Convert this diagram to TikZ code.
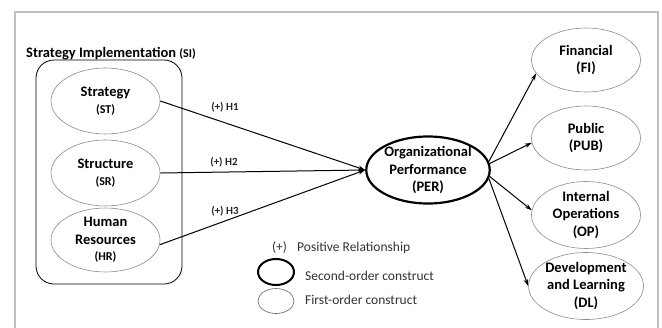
\documentclass[tikz,border=0pt]{standalone}
\usepackage{fontspec}
\setmainfont{Carlito}
\usetikzlibrary{shapes.geometric,arrows.meta}
\begin{document}
\begin{tikzpicture}[x=1pt,y=-1pt,
  first/.style={ellipse,draw=black!45,line width=0.6pt,minimum width=109pt,minimum height=66pt,inner sep=0pt,align=center,font=\fontsize{14.5}{17.5}\selectfont\bfseries},
  second/.style={ellipse,draw=black,line width=2.2pt,minimum width=111pt,minimum height=66pt,inner sep=0pt,align=center,font=\fontsize{14.5}{17.5}\selectfont\bfseries},
  arr/.style={line width=1pt,-{Stealth[length=7pt,width=4.5pt]}},
  hlab/.style={font=\fontsize{11}{13}\selectfont\bfseries,text=black!85},
  legtext/.style={inner sep=0pt,font=\fontsize{13.5}{16}\selectfont,text=black!80}]
\useasboundingbox (0,0) rectangle (662,327);
\fill[white] (0,0) rectangle (662,327);
\draw[black!25,line width=1.6pt] (15,335) -- (15,12) -- (658,12) -- (658,335);
% title and group box
\node[anchor=base west,inner sep=0pt,font=\fontsize{14.5}{17}\selectfont\bfseries] (title) at (26,57) {Strategy Implementation {\fontsize{12}{14}\selectfont(SI)}};
\draw[line width=0.8pt,rounded corners=18pt] (36,60) rectangle (182,284);
% first-order left
\node[first] (st) at (105.5,101) {Strategy\\[-1pt]{\fontsize{12}{15}\selectfont(ST)}};
\node[first] (sr) at (105.5,173) {Structure\\[-1pt]{\fontsize{12}{15}\selectfont(SR)}};
\node[first,minimum height=62pt] (hr) at (105.5,240) {Human\\Resources\\[-1pt]{\fontsize{12}{15}\selectfont(HR)}};
% second-order
\node[second] (per) at (428,170) {Organizational\\Performance\\(PER)};
% right first-order
\node[first,minimum height=64pt] (fi) at (586,60) {Financial\\(FI)};
\node[first,minimum height=64pt] (pub) at (586,138) {Public\\(PUB)};
\node[first,minimum height=62pt] (op) at (586,215) {Internal\\Operations\\(OP)};
\node[first,minimum height=62pt] (dl) at (586,286) {Development\\and Learning\\(DL)};
% arrows in
\draw[arr] (st.east) -- (per.west);
\draw[arr] (sr.east) -- (per.west);
\draw[arr] (hr.-5) -- (per.west);
\node[hlab] (h1) at (225,107) {(+) H1};
\node[hlab] (h2) at (224,162) {(+) H2};
\node[hlab] (h3) at (225,211) {(+) H3};
% arrows out
\draw[arr] (per.8) -- (fi.195);
\draw[arr] (per.6) -- (pub.185);
\draw[arr] (per.-6) -- (op.175);
\draw[arr] (per.-8) -- (dl.west);
% legend
\node[legtext,anchor=base] (plus) at (279.5,251) {(+)};
\node[legtext,anchor=base west] (pos) at (297,251) {Positive Relationship};
\node[ellipse,draw=black,line width=2pt,minimum width=36pt,minimum height=26pt,inner sep=0pt] (lsec) at (276,272) {};
\node[ellipse,draw=black!60,line width=0.6pt,minimum width=36pt,minimum height=25pt,inner sep=0pt] (lfir) at (276,301) {};
\node[legtext,anchor=west] (tsec) at (305,276) {Second-order construct};
\node[legtext,anchor=west] (tfir) at (305,300) {First-order construct};
\end{tikzpicture}
\end{document}
